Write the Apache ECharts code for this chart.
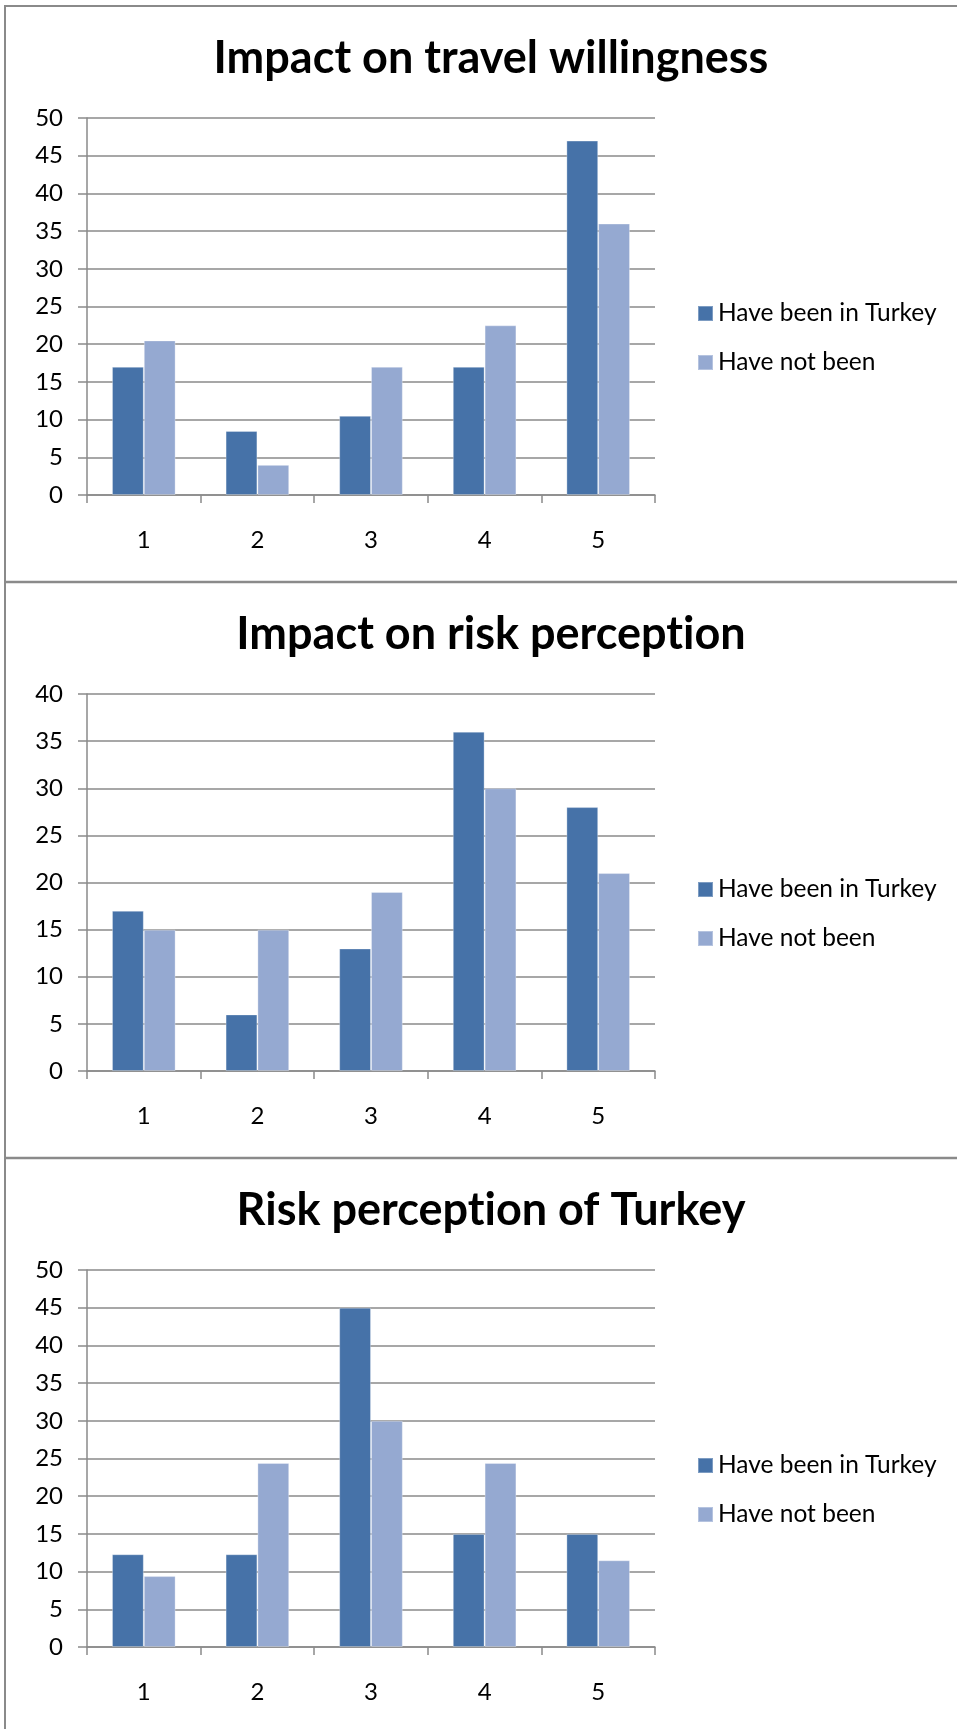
<!DOCTYPE html>
<html>
<head>
<meta charset="utf-8">
<style>
  html, body { margin: 0; padding: 0; background: #ffffff; }
  #chart { width: 957px; height: 1729px; }
</style>
<script src="https://cdn.jsdelivr.net/npm/echarts@6/dist/echarts.min.js"></script>
</head>
<body>
<div id="chart"></div>
<script>
// Survey answers on a 1–5 scale, split by whether respondents have visited Turkey
const categories = ['1', '2', '3', '4', '5'];
const seriesNames = ['Have been in Turkey', 'Have not been'];

// "ion" is set as its own rich-text run so Lato does not fuse "ti" into a ligature
const titles = [
  'Impact on travel willingness',
  'Impact on risk percept{t|ion}',
  'Risk percept{t|ion} of Turkey'
];

const willingnessBeen = [17, 8.5, 10.5, 17, 47];
const willingnessNotBeen = [20.5, 4, 17, 22.5, 36];

const riskImpactBeen = [17, 6, 13, 36, 28];
const riskImpactNotBeen = [15, 15, 19, 30, 21];

const riskTurkeyBeen = [12.3, 12.3, 45, 15, 15];
const riskTurkeyNotBeen = [9.4, 24.4, 30, 24.4, 11.5];

const axisMax = [50, 40, 50];
const axisStep = 5;

const panels = [
  [willingnessBeen, willingnessNotBeen],
  [riskImpactBeen, riskImpactNotBeen],
  [riskTurkeyBeen, riskTurkeyNotBeen]
];

const FONT = 'Lato, "Open Sans", sans-serif';
const GREY = '#8a8a8a';
const COLORS = ['#4672A8', '#95A9D1'];
const PANEL_H = 576;

const titleText = { fontFamily: FONT, fontWeight: 'bold', fontSize: 45, color: '#000' };

const grids = [], xAxes = [], yAxes = [], series = [], titleOpts = [], legends = [];

panels.forEach((pair, k) => {
  const off = PANEL_H * k;
  titleOpts.push({
    text: titles[k],
    left: 486,
    top: 31 + off,
    textAlign: 'center',
    textStyle: Object.assign({}, titleText, { rich: { t: Object.assign({}, titleText) } })
  });
  grids.push({ left: 87, top: 118 + off, width: 568, height: 377 });
  xAxes.push({
    type: 'category',
    gridIndex: k,
    data: categories,
    axisLine: { lineStyle: { color: GREY, width: 1.5 } },
    axisTick: { show: true, length: 8, lineStyle: { color: GREY, width: 1.5 } },
    axisLabel: { color: '#000', fontFamily: FONT, fontSize: 24, margin: 33 }
  });
  yAxes.push({
    type: 'value',
    gridIndex: k,
    min: 0,
    max: axisMax[k],
    interval: axisStep,
    axisLine: { show: true, lineStyle: { color: GREY, width: 1.5 } },
    axisTick: { show: true, length: 9, lineStyle: { color: GREY, width: 1.5 } },
    splitLine: { show: true, lineStyle: { color: GREY, width: 1.5 } },
    axisLabel: { color: '#000', fontFamily: FONT, fontSize: 24, margin: 24 }
  });
  pair.forEach((vals, i) => {
    series.push({
      type: 'bar',
      name: seriesNames[i],
      xAxisIndex: k,
      yAxisIndex: k,
      data: vals,
      barGap: '0%',
      barCategoryGap: '44%',
      itemStyle: {
        color: COLORS[i],
        borderColor: 'rgba(255,255,255,0.3)',
        borderWidth: 1
      }
    });
  });
  legends.push({
    orient: 'vertical',
    left: 692,
    top: 296 + off,
    padding: 5,
    itemWidth: 15,
    itemHeight: 15,
    itemGap: 24,
    icon: 'rect',
    data: seriesNames,
    selectedMode: false,
    textStyle: { fontFamily: FONT, fontSize: 24.5, color: '#000', lineHeight: 24 }
  });
});

// Panel frames: left edge and the horizontal rules above each panel
const frame = [{ type: 'line', shape: { x1: 5, y1: 5, x2: 5, y2: 1729 }, style: { stroke: GREY, lineWidth: 2 } }];
[6, 582, 1158].forEach(y => {
  frame.push({ type: 'line', shape: { x1: 4, y1: y, x2: 957, y2: y }, style: { stroke: GREY, lineWidth: y === 6 ? 2 : 2.5 } });
});

const chart = echarts.init(document.getElementById('chart'), null, { renderer: 'canvas' });
chart.setOption({
  animation: false,
  backgroundColor: '#ffffff',
  color: COLORS,
  title: titleOpts,
  grid: grids,
  xAxis: xAxes,
  yAxis: yAxes,
  legend: legends,
  series: series,
  graphic: frame
});
</script>
</body>
</html>
